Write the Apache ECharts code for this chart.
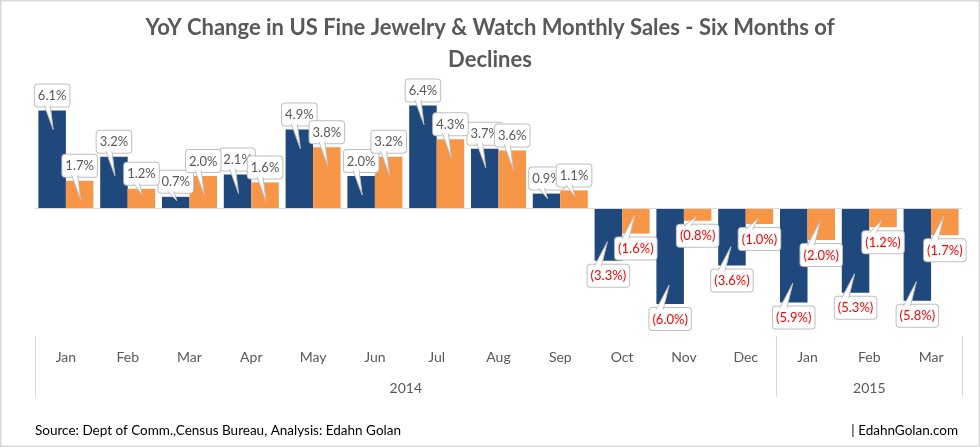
<!DOCTYPE html>
<html>
<head>
<meta charset="utf-8">
<script src="https://cdn.jsdelivr.net/npm/echarts@6/dist/echarts.min.js"></script>
<style>
html,body{margin:0;padding:0;background:#fff;}
#chart{width:980px;height:447px;}
</style>
</head>
<body>
<div id="chart"></div>
<script>
const months = ['Jan','Feb','Mar','Apr','May','Jun','Jul','Aug','Sep','Oct','Nov','Dec','Jan','Feb','Mar'];
const years = ['2014','2015'];
const yearCenters = [6, 13.5];      // midpoint (in category units) of each year group
const yearBounds = [0, 12, 15];     // group boundaries (in category units)
const seriesA = [6.1, 3.2, 0.7, 2.1, 4.9, 2.0, 6.4, 3.7, 0.9, -3.3, -6.0, -3.6, -5.9, -5.3, -5.8];
const seriesB = [1.7, 1.2, 2.0, 1.6, 3.8, 3.2, 4.3, 3.6, 1.1, -1.6, -0.8, -1.0, -2.0, -1.2, -1.7];

const FONT = 'Lato, "Open Sans", sans-serif';
const CAT_GAP = 0.11;

function fmt(v){
  return v < 0 ? '(' + Math.abs(v).toFixed(1) + '%)' : v.toFixed(1) + '%';
}
function makeData(arr){
  return arr.map(v => ({
    value: v,
    label: {
      position: v < 0 ? 'bottom' : 'top',
      color: v < 0 ? '#ff0000' : '#595959'
    }
  }));
}
const labelBase = {
  show: true,
  formatter: p => fmt(p.value),
  fontFamily: FONT,
  fontSize: 13,
  backgroundColor: '#fff',
  borderColor: '#bfbfbf',
  borderWidth: 1,
  borderRadius: 3,
  padding: [5, 3, 4, 3],
  distance: 4
};

// callout pointers, one per bar, placed through the axes
const pointerData = [];
seriesA.forEach((v, i) => pointerData.push([i, v, 0]));
seriesB.forEach((v, i) => pointerData.push([i, v, 1]));

function renderPointer(params, api){
  const i = api.value(0), v = api.value(1), s = api.value(2);
  const end = api.coord([i, v]);
  const zero = api.coord([i, 0]);
  const catW = api.size([1, 0])[0];
  const barW = catW * (1 - CAT_GAP) / 2;
  const cx = end[0] + (s === 0 ? -barW / 2 : barW / 2);
  const h = Math.abs(zero[1] - end[1]);
  const depth = h >= 22 ? 19 : Math.max(2, h * 0.35);
  let pts;
  if (v >= 0) {
    const by = end[1] - 5.6;
    pts = [[cx - 8, by], [cx + 1, end[1] + depth], [cx - 2, by]];
  } else {
    const by = end[1] + 5.6;
    pts = [[cx - 14, by], [cx - 1, end[1] - depth], [cx - 7, by]];
  }
  return {
    type: 'group',
    children: [
      { type: 'polygon', shape: { points: pts }, style: { fill: '#fff', stroke: 'none' } },
      { type: 'polyline', shape: { points: pts }, style: { fill: 'none', stroke: '#bfbfbf', lineWidth: 1 } }
    ]
  };
}

const chart = echarts.init(document.getElementById('chart'));
chart.setOption({
  animation: false,
  backgroundColor: '#fff',
  textStyle: { fontFamily: FONT },
  title: [
    {
      text: 'YoY Change in US Fine Jewelry & Watch Monthly Sales - Six Months of\nDeclines',
      left: 'center', top: 7,
      textStyle: { fontFamily: FONT, fontSize: 22, fontWeight: 'bold', color: '#595959', lineHeight: 32 }
    },
    {
      text: 'Source: Dept of Comm.,Census Bureau, Analysis: Edahn Golan',
      left: 30, top: 419,
      textStyle: { fontFamily: FONT, fontSize: 13.5, fontWeight: 'normal', color: '#000' }
    },
    {
      text: '| EdahnGolan.com',
      right: 17, top: 419,
      textStyle: { fontFamily: FONT, fontSize: 13.5, fontWeight: 'normal', color: '#000' }
    }
  ],
  graphic: [{
    type: 'rect', silent: true,
    shape: { x: 0.75, y: 0.75, width: 978.5, height: 445.5 },
    style: { fill: 'none', stroke: '#d9d9d9', lineWidth: 1.5 }
  }],
  grid: { left: 35, right: 18, top: 80, bottom: 111 },
  xAxis: [
    {
      type: 'category',
      data: months,
      position: 'bottom',
      axisLine: { show: false, onZero: false },
      axisTick: { show: false },
      axisLabel: { color: '#595959', fontSize: 14, fontFamily: FONT, margin: 14, interval: 0 }
    },
    {
      type: 'value',
      min: 0, max: 15,
      position: 'bottom',
      axisLine: { show: false, onZero: false },
      splitLine: { show: false },
      axisTick: { show: true, customValues: yearBounds, length: 61, lineStyle: { color: '#d9d9d9' } },
      axisLabel: {
        customValues: yearCenters,
        formatter: v => years[yearCenters.indexOf(v)],
        color: '#595959', fontSize: 14, fontFamily: FONT, margin: 45
      }
    }
  ],
  yAxis: { type: 'value', min: -8, max: 8, show: false },
  series: [
    {
      name: 'Series A', type: 'bar', xAxisIndex: 0,
      data: makeData(seriesA),
      itemStyle: { color: '#1f497d' },
      barGap: '0%', barCategoryGap: (CAT_GAP * 100) + '%',
      label: labelBase,
      markLine: {
        silent: true, symbol: 'none',
        label: { show: false },
        lineStyle: { color: '#d9d9d9', width: 1, type: 'solid' },
        data: [{ yAxis: 0 }]
      }
    },
    {
      name: 'Series B', type: 'bar', xAxisIndex: 0,
      data: makeData(seriesB),
      itemStyle: { color: '#f79646' },
      barGap: '0%', barCategoryGap: (CAT_GAP * 100) + '%',
      label: labelBase
    },
    {
      name: 'pointers', type: 'custom', xAxisIndex: 0,
      z: 3, silent: true,
      data: pointerData,
      renderItem: renderPointer
    }
  ]
});
</script>
</body>
</html>
